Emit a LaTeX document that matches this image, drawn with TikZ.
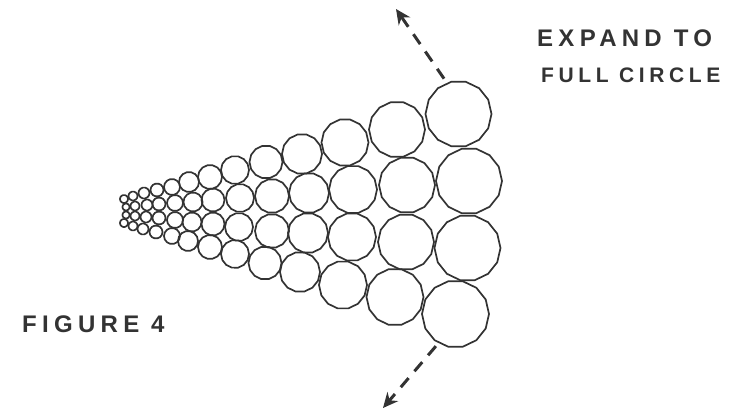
\documentclass[tikz,border=0pt]{standalone}
\usepackage{fontspec}
\usepackage{tikz}
\usetikzlibrary{arrows.meta, shapes.geometric}
\newfontfamily\handfont[LetterSpace=22]{Liberation Sans}
\tikzset{
  cell/.style={regular polygon, regular polygon sides=14, draw=black!80, line width=1.7pt, inner sep=0pt, outer sep=0pt},
  hand/.style={anchor=west, inner sep=0pt, text=black!80, font=\handfont\bfseries\fontsize{24}{28}\selectfont},
  expand/.style={draw=black!80, line width=3pt, dash pattern=on 12pt off 9pt, -{Stealth[length=15pt, width=14pt]}}
}

\begin{document}
\begin{tikzpicture}[x=1pt, y=-1pt]
        \useasboundingbox (0, 0) rectangle (736, 409);

        % Largest column
        \node[cell, minimum size=66pt] (a1) at (458.5, 114) {};
        \node[cell, minimum size=66pt] (a2) at (469, 181) {};
        \node[cell, minimum size=66pt] (a3) at (467.5, 248) {};
        \node[cell, minimum size=67pt] (a4) at (455.5, 314) {};

        \node[cell, minimum size=56pt] (b1) at (397, 129.5) {};
        \node[cell, minimum size=56pt] (b2) at (407, 185) {};
        \node[cell, minimum size=56pt] (b3) at (406, 242) {};
        \node[cell, minimum size=57pt] (b4) at (395, 297) {};

        \node[cell, minimum size=47pt] (c1) at (345, 142.5) {};
        \node[cell, minimum size=48pt] (c2) at (353, 189.5) {};
        \node[cell, minimum size=48pt] (c3) at (352, 237) {};
        \node[cell, minimum size=48pt] (c4) at (343, 285) {};

        \node[cell, minimum size=40pt] (d1) at (302, 154) {};
        \node[cell, minimum size=40pt] (d2) at (309, 193) {};
        \node[cell, minimum size=40pt] (d3) at (308, 233) {};
        \node[cell, minimum size=40pt] (d4) at (300, 272) {};

        \node[cell, minimum size=33pt] (e1) at (266, 162) {};
        \node[cell, minimum size=34pt] (e2) at (272, 196) {};
        \node[cell, minimum size=34pt] (e3) at (272, 231) {};
        \node[cell, minimum size=33pt] (e4) at (265, 263) {};

        \node[cell, minimum size=28pt] (f1) at (235, 170) {};
        \node[cell, minimum size=28pt] (f2) at (240, 198) {};
        \node[cell, minimum size=28pt] (f3) at (239, 227) {};
        \node[cell, minimum size=28pt] (f4) at (235, 254) {};

        \node[cell, minimum size=24pt] (g1) at (210, 177) {};
        \node[cell, minimum size=23pt] (g2) at (213, 200) {};
        \node[cell, minimum size=23pt] (g3) at (213, 224) {};
        \node[cell, minimum size=24pt] (g4) at (210, 247) {};

        \node[cell, minimum size=20pt] (h1) at (189, 182) {};
        \node[cell, minimum size=19pt] (h2) at (193, 202) {};
        \node[cell, minimum size=19pt] (h3) at (192, 222) {};
        \node[cell, minimum size=20pt] (h4) at (188, 241) {};

        \node[cell, minimum size=16pt] (i1) at (172, 187) {};
        \node[cell, minimum size=16pt] (i2) at (175, 203) {};
        \node[cell, minimum size=16pt] (i3) at (175, 220) {};
        \node[cell, minimum size=16pt] (i4) at (172, 236) {};

        \node[cell, minimum size=13pt] (j1) at (157, 190) {};
        \node[cell, minimum size=13pt] (j2) at (159, 204) {};
        \node[cell, minimum size=13pt] (j3) at (159, 218) {};
        \node[cell, minimum size=13pt] (j4) at (156, 232) {};

        \node[cell, minimum size=11pt] (k1) at (144, 193) {};
        \node[cell, minimum size=11pt] (k2) at (147, 205) {};
        \node[cell, minimum size=11pt] (k3) at (146, 217) {};
        \node[cell, minimum size=11pt] (k4) at (143, 229) {};

        \node[cell, minimum size=9pt] (l1) at (133, 196) {};
        \node[cell, minimum size=9pt] (l2) at (135, 206) {};
        \node[cell, minimum size=9pt] (l3) at (135, 216) {};
        \node[cell, minimum size=9pt] (l4) at (133, 226) {};

        % Smallest column
        \node[cell, minimum size=8pt] (m1) at (124, 199) {};
        \node[cell, minimum size=7pt] (m2) at (126, 207) {};
        \node[cell, minimum size=7pt] (m3) at (126, 215) {};
        \node[cell, minimum size=8pt] (m4) at (124, 223) {};

        % Labels
        \node[hand] (expandlabel) at (537, 38) {EXPAND TO};
        \node[hand, font=\handfont\bfseries\fontsize{21}{26}\selectfont] (circlelabel) at (541, 75) {FULL CIRCLE};
        \node[hand] (figlabel) at (22, 324) {FIGURE 4};

        % Dashed arrows
        \coordinate (uptip) at (396, 9);
        \coordinate (downtip) at (383, 408);
        \draw[expand, shorten <=6pt] (a1.110) -- (uptip);
        \draw[expand, shorten <=5pt] (a4.240) -- (downtip);
    \end{tikzpicture}
\end{document}
